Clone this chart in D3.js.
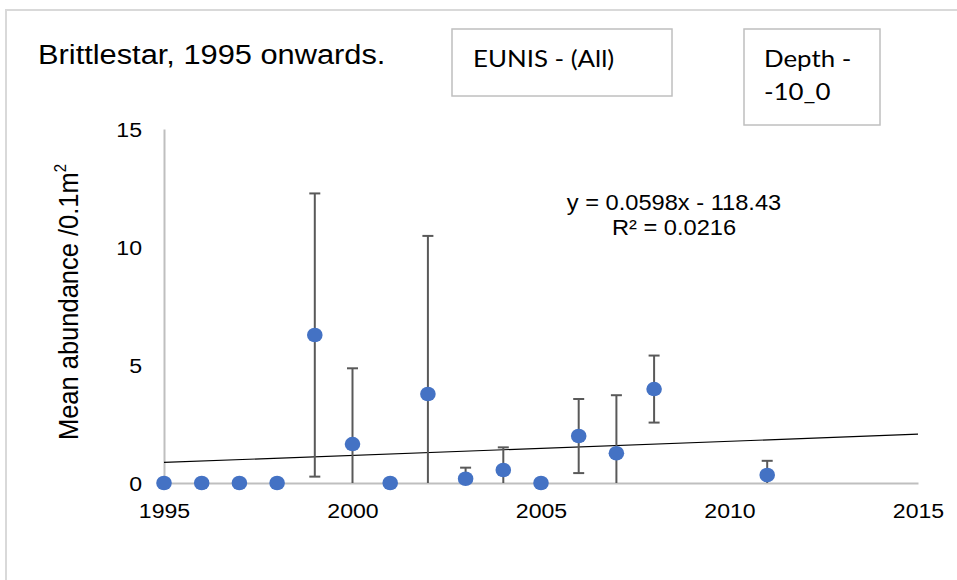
<!DOCTYPE html>
<html>
<head>
<meta charset="utf-8">
<script src="https://cdn.jsdelivr.net/npm/d3@7"></script>
<style>
  html, body { margin: 0; padding: 0; background: #ffffff; }
  svg { display: block; }
</style>
</head>
<body>
<script>
// ---- data ----
const years  = [1995, 1996, 1997, 1998, 1999, 2000, 2001, 2002, 2003, 2004, 2005, 2006, 2007, 2008, 2011];
const means  = [0, 0, 0, 0, 6.27, 1.65, 0, 3.77, 0.18, 0.55, 0, 1.99, 1.26, 3.98, 0.34];
const errors = [0, 0, 0, 0, 6.0, 3.21, 0, 6.70, 0.47, 0.96, 0, 1.57, 2.46, 1.42, 0.60];
const xTicks = [1995, 2000, 2005, 2010, 2015];
const yTicks = [0, 5, 10, 15];
const trendCoef = [0.0598, -118.43];   // slope, intercept
const titleText = "Brittlestar, 1995 onwards.";
const equationLines = ["y = 0.0598x - 118.43", "R\u00B2 = 0.0216"];
const box1Lines = ["EUNIS - (All)"];
const box2Lines = ["Depth -", "-10_0"];

// ---- layout ----
const W = 957, H = 580;
const SX = 1.1; // horizontal stretch of text seen in the reference
const svg = d3.select("body").append("svg").attr("width", W).attr("height", H);

svg.append("rect").attr("x", 0).attr("y", 0).attr("width", W).attr("height", H).attr("fill", "#ffffff");
// outer chart border
svg.append("rect").attr("x", 6).attr("y", 10).attr("width", W + 10).attr("height", H + 10)
  .attr("fill", "none").attr("stroke", "#d9d9d9").attr("stroke-width", 2);

const x = d3.scaleLinear().domain([1995, 2015]).range([164, 918]);
const y = d3.scaleLinear().domain([0, 15]).range([483, 129]);

const font = "'Liberation Sans', Arial, sans-serif";

function stretchedText(g, tx, ty, str, size, anchor, family) {
  return g.append("text")
    .attr("transform", `translate(${tx},${ty}) scale(${SX},1)`)
    .attr("text-anchor", anchor || "start")
    .attr("font-family", family || font)
    .attr("font-size", size)
    .attr("fill", "#000")
    .text(str);
}

// title
stretchedText(svg, 38, 64, titleText, 28);

// boxes
const boxFont = "Lato, 'Open Sans', sans-serif";
svg.append("rect").attr("x", 452).attr("y", 29).attr("width", 220).attr("height", 67)
  .attr("fill", "#fff").attr("stroke", "#bfbfbf").attr("stroke-width", 1.5);
box1Lines.forEach((t, i) => stretchedText(svg, 473, 67 + i * 33, t, 23.5, "start", boxFont));
svg.append("rect").attr("x", 744).attr("y", 29).attr("width", 136).attr("height", 96)
  .attr("fill", "#fff").attr("stroke", "#bfbfbf").attr("stroke-width", 1.5);
box2Lines.forEach((t, i) => stretchedText(svg, 764, 67 + i * 33, t, 23.5, "start", boxFont));

// axes
const yAxis = d3.axisLeft(y).tickValues(yTicks).tickSize(0).tickSizeOuter(0).tickFormat(d3.format("d"));
const gy = svg.append("g").attr("transform", `translate(${x(1995)},0)`).call(yAxis);
gy.select(".domain").attr("stroke", "#bfbfbf").attr("stroke-width", 2);
gy.selectAll(".tick text")
  .attr("x", null).attr("dy", null)
  .attr("transform", `translate(-22,0) scale(${SX},1)`)
  .attr("dy", "0.35em")
  .attr("text-anchor", "end")
  .attr("font-family", font).attr("font-size", 21).attr("fill", "#000");

const xAxis = d3.axisBottom(x).tickValues(xTicks).tickSize(0).tickSizeOuter(0).tickFormat(d3.format("d"));
const gx = svg.append("g").attr("transform", `translate(0,${y(0)})`).call(xAxis);
gx.select(".domain").attr("stroke", "#bfbfbf").attr("stroke-width", 2);
gx.selectAll(".tick text")
  .attr("y", null).attr("dy", null)
  .attr("transform", `translate(0,35) scale(${SX},1)`)
  .attr("text-anchor", "middle")
  .attr("font-family", font).attr("font-size", 21).attr("fill", "#000");

// y axis title
const yl = svg.append("text")
  .attr("transform", `translate(78,302) scale(${SX},1) rotate(-90)`)
  .attr("text-anchor", "middle")
  .attr("font-family", font).attr("font-size", 25.5).attr("fill", "#000");
yl.append("tspan").text("Mean abundance /0.1m");
yl.append("tspan").attr("font-size", 15).attr("dy", "-0.75em").text("2");

// trendline
const tl = d3.line().x(d => x(d)).y(d => y(trendCoef[0] * d + trendCoef[1]));
svg.append("path").datum([1995, 2015]).attr("d", tl)
  .attr("fill", "none").attr("stroke", "#000").attr("stroke-width", 1.2);

// error bars
const pts = years.map((yr, i) => ({ yr, m: means[i], e: errors[i] }));
const eb = svg.append("g").attr("stroke", "#595959").attr("stroke-width", 2).attr("fill", "none");
pts.filter(d => d.e > 0).forEach(d => {
  const lo = Math.max(0, d.m - d.e), hi = d.m + d.e;
  eb.append("line").attr("x1", x(d.yr)).attr("x2", x(d.yr)).attr("y1", y(lo)).attr("y2", y(hi));
  eb.append("line").attr("x1", x(d.yr) - 5.5).attr("x2", x(d.yr) + 5.5).attr("y1", y(hi)).attr("y2", y(hi));
  if (d.m - d.e > 0) {
    eb.append("line").attr("x1", x(d.yr) - 5.5).attr("x2", x(d.yr) + 5.5).attr("y1", y(lo)).attr("y2", y(lo));
  }
});

// markers
svg.append("g").selectAll("ellipse").data(pts).join("ellipse")
  .attr("cx", d => x(d.yr)).attr("cy", d => y(d.m))
  .attr("rx", 7.8).attr("ry", 7.3)
  .attr("fill", "#4472c4");

// equation
equationLines.forEach((t, i) => stretchedText(svg, 674, 210 + i * 25, t, 21.5, "middle"));
</script>
</body>
</html>
